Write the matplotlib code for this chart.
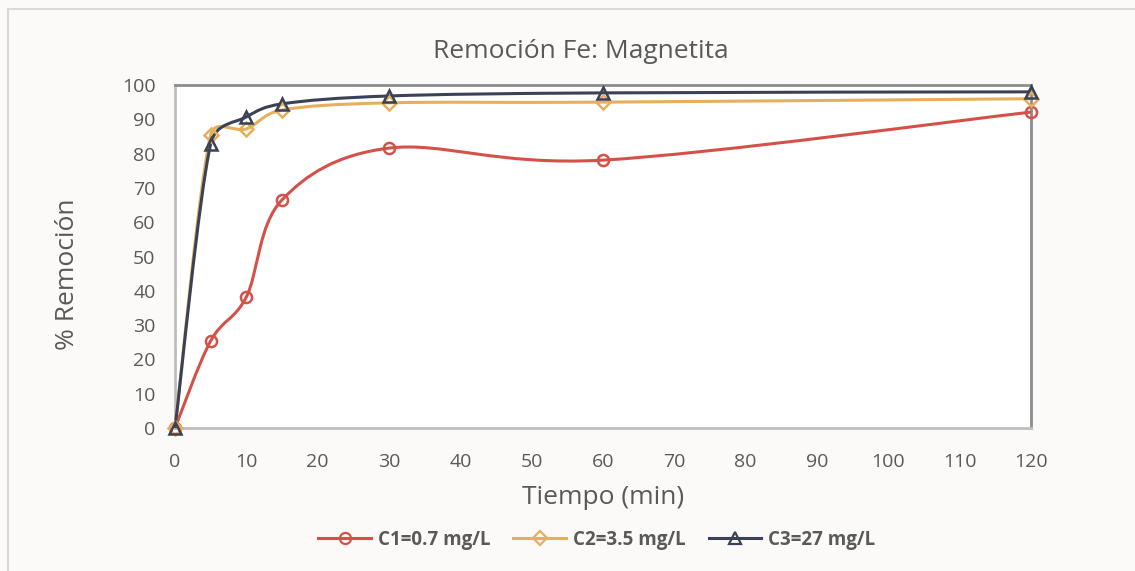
import numpy as np
import matplotlib
matplotlib.use("Agg")
import matplotlib.pyplot as plt
from matplotlib.patches import Rectangle, PathPatch
from matplotlib.path import Path

plt.rcParams['font.family'] = ['Open Sans', 'DejaVu Sans']

# Removal of Fe over time with magnetite, three initial concentrations
tiempo = [0, 5, 10, 15, 30, 60, 120]
c1 = [0, 25.4, 38.2, 66.5, 81.6, 78.1, 92.1]
c2 = [0, 85.4, 87.2, 92.7, 94.8, 95.0, 96.0]
c3 = [0, 82.8, 90.7, 94.5, 96.8, 97.7, 98.0]
series_labels = ["C1=0.7 mg/L", "C2=3.5 mg/L", "C3=27 mg/L"]
y_ticks = list(range(0, 101, 10))
x_ticks = list(range(0, 121, 10))

colors = ["#D4514A", "#E6AF5C", "#3B4256"]
markers = ["o", "D", "^"]
msizes = [8, 7, 8]

BG = "#FBFAF8"
TXT = "#595959"


def smooth_path(ax, xs, ys):
    """Bezier curve through the points (computed in screen space), with
    control handles at 1/6 of the neighbour span, capped at half the segment."""
    p = ax.transData.transform(np.column_stack([xs, ys]).astype(float))
    n = len(p)
    verts = [p[0]]
    codes = [Path.MOVETO]
    for i in range(n - 1):
        p0 = p[i - 1] if i > 0 else p[i]
        p1 = p[i]
        p2 = p[i + 1]
        p3 = p[i + 2] if i + 2 < n else p[i + 1]
        d12 = np.linalg.norm(p2 - p1)
        d02 = np.linalg.norm(p2 - p0)
        d13 = np.linalg.norm(p3 - p1)
        f0 = 1 / 6.0
        f3 = 1 / 6.0
        if d02 > 0 and d02 / 6.0 > d12 / 2.0:
            f0 = d12 / (2.0 * d02)
        if d13 > 0 and d13 / 6.0 > d12 / 2.0:
            f3 = d12 / (2.0 * d13)
        h1 = p1 + (p2 - p0) * f0
        h2 = p2 - (p3 - p1) * f3
        verts += [h1, h2, p2]
        codes += [Path.CURVE4] * 3
    verts = ax.transData.inverted().transform(np.array(verts))
    return Path(verts, codes)


fig = plt.figure(figsize=(11.35, 5.71), dpi=100, facecolor=BG)
W, H = 1135, 571

# outer chart border
fig.patches.append(Rectangle((8 / W, -0.05), 1.1, 1 - 9 / H + 0.05,
                             transform=fig.transFigure, fill=False,
                             edgecolor="#D9D9D9", linewidth=1.5))

ax = fig.add_axes([175 / W, 1 - 428 / H, (1031 - 175) / W, (428 - 85) / H])
ax.set_facecolor("white")
ax.set_xlim(0, 120)
ax.set_ylim(0, 100)

for ys, col, mk, ms, lab in zip([c1, c2, c3], colors, markers, msizes, series_labels):
    patch = PathPatch(smooth_path(ax, tiempo, ys), facecolor="none", edgecolor=col,
                      linewidth=2.2, zorder=3, clip_on=False)
    ax.add_patch(patch)
    ax.plot(tiempo, ys, linestyle="none", marker=mk, markersize=ms,
            markerfacecolor="none", markeredgecolor=col, markeredgewidth=1.8,
            zorder=4, clip_on=False)
    ax.plot([], [], color=col, linewidth=2.2, marker=mk, markersize=ms,
            markerfacecolor="none", markeredgecolor=col, markeredgewidth=1.6,
            label=lab)

ax.set_xticks(x_ticks)
ax.set_yticks(y_ticks)
ax.tick_params(length=0, labelsize=14, labelcolor=TXT)
ax.tick_params(axis="x", pad=18)
ax.tick_params(axis="y", pad=14)

for side in ["left", "bottom"]:
    ax.spines[side].set_color("#BFBFBF")
    ax.spines[side].set_linewidth(2)
for side in ["top", "right"]:
    ax.spines[side].set_color("#8C8C8C")
    ax.spines[side].set_linewidth(2)

fig.text(581 / W, 1 - 51 / H, "Remoción Fe: Magnetita", fontsize=19,
         color=TXT, ha="center", va="center")
fig.text(603 / W, 1 - 497 / H, "Tiempo (min)", fontsize=19,
         color=TXT, ha="center", va="center")
fig.text(67 / W, 1 - 274 / H, "% Remoción", fontsize=19,
         color=TXT, ha="center", va="center", rotation=90)

leg = fig.legend(loc="center", bbox_to_anchor=(597 / W, 1 - 540 / H), ncol=3,
                 frameon=False, prop={"size": 13.5, "weight": "bold"},
                 handlelength=2.8, columnspacing=1.2, handletextpad=0.4)
for t in leg.get_texts():
    t.set_color(TXT)

fig.savefig("out.png", dpi=100, facecolor=BG)
